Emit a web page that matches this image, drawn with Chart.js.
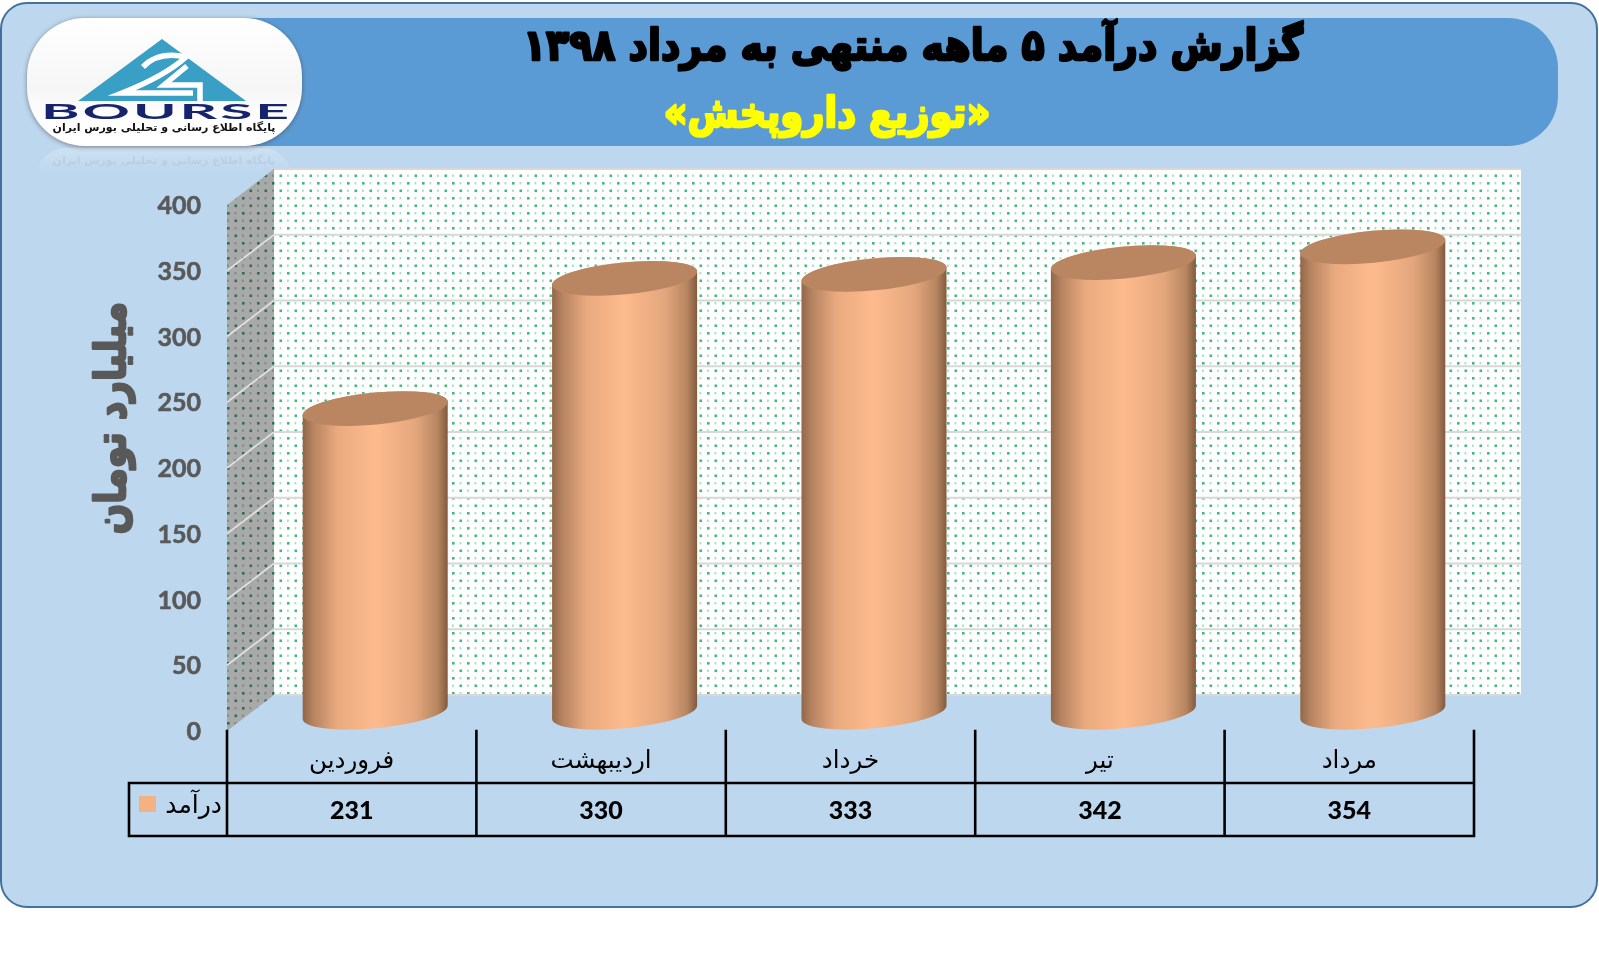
<!DOCTYPE html>
<html lang="fa">
<head>
<meta charset="utf-8">
<title>گزارش درآمد</title>
<script src="https://cdn.jsdelivr.net/npm/chart.js@4"></script>
<style>
  html, body { margin: 0; padding: 0; background: #fff; }
  canvas { display: block; }
</style>
</head>
<body>
<canvas id="revenue-chart" width="1599" height="956"></canvas>
<script>
const months = ['فروردین', 'اردیبهشت', 'خرداد', 'تیر', 'مرداد'];
const revenue = [231, 330, 333, 342, 354];
const seriesName = 'درآمد';
const axisTitle = 'میلیارد تومان';
const mainTitle = 'گزارش درآمد ۵ ماهه منتهی به مرداد ۱۳۹۸';
const subTitle = '«توزیع داروپخش»';
const logoName = 'BOURSE';
const logoCaption = 'پایگاه اطلاع رسانی و تحلیلی بورس ایران';

const arabicFont = '"DejaVu Sans", sans-serif';
const numberFont = 'Lato, "Open Sans", sans-serif';
const depthX = 47, depthY = 36;   // offset of the back wall from the front plane

function roundedBox(ctx, x, y, w, h, r) {
  ctx.beginPath();
  ctx.roundRect(x, y, w, h, r);
}

function dotPattern(ctx, bg, dot) {
  const tile = document.createElement('canvas');
  tile.width = 15; tile.height = 15;
  const t = tile.getContext('2d');
  t.fillStyle = bg;
  t.fillRect(0, 0, 15, 15);
  t.fillStyle = dot;
  t.fillRect(2, 2, 2.6, 2.6);
  t.fillRect(9.5, 9.5, 2.6, 2.6);
  t.globalAlpha = 0.45;
  t.fillRect(9.5, 2, 1.8, 2.4);
  t.fillRect(2, 9.5, 1.8, 2.4);
  return ctx.createPattern(tile, 'repeat');
}

// stretched text drawn around its centre, thickened with a stroke
function heavyText(ctx, text, cx, cy, scaleX, stroke) {
  ctx.save();
  ctx.translate(cx, cy);
  ctx.scale(scaleX, 1);
  ctx.lineWidth = stroke;
  ctx.lineJoin = 'round';
  ctx.fillText(text, 0, 0);
  ctx.strokeText(text, 0, 0);
  ctx.restore();
}

function drawLogo(ctx) {
  // reflection under the badge
  const refl = ctx.createLinearGradient(0, 148, 0, 172);
  refl.addColorStop(0, 'rgba(255,255,255,0.25)');
  refl.addColorStop(1, 'rgba(255,255,255,0)');
  ctx.fillStyle = refl;
  roundedBox(ctx, 36, 148, 256, 60, 40);
  ctx.fill();

  ctx.save();
  ctx.shadowColor = 'rgba(60,60,60,0.55)';
  ctx.shadowBlur = 5;
  ctx.shadowOffsetY = 1;
  const pill = ctx.createLinearGradient(0, 18, 0, 146);
  pill.addColorStop(0, '#ffffff');
  pill.addColorStop(0.55, '#f6f6f6');
  pill.addColorStop(0.8, '#ffffff');
  ctx.fillStyle = pill;
  roundedBox(ctx, 27, 18, 275, 128, 58);
  ctx.fill();
  ctx.restore();

  ctx.fillStyle = '#3a9fc4';
  ctx.beginPath();
  ctx.moveTo(162, 39); ctx.lineTo(246, 101); ctx.lineTo(78, 101);
  ctx.closePath();
  ctx.fill();

  ctx.strokeStyle = '#ffffff';
  ctx.lineWidth = 5.5;
  ctx.lineJoin = 'miter';
  ctx.beginPath();
  ctx.moveTo(143, 67);
  ctx.quadraticCurveTo(158, 51, 186, 57);
  ctx.quadraticCurveTo(165, 76, 122, 93);
  ctx.lineTo(193, 93);
  ctx.moveTo(187, 66);
  ctx.lineTo(164, 85);
  ctx.lineTo(200, 85);
  ctx.lineTo(200, 103);
  ctx.stroke();

  ctx.save();
  ctx.font = 'bold 20px ' + numberFont;
  ctx.fillStyle = '#16246e';
  ctx.textBaseline = 'alphabetic';
  ctx.textAlign = 'left';
  ctx.letterSpacing = '1px';
  const w = ctx.measureText(logoName).width - 1;
  ctx.translate(41, 119);
  ctx.scale(248 / w, 1);
  ctx.fillText(logoName, 0, 0);
  ctx.restore();

  ctx.save();
  ctx.font = 'bold 11px ' + arabicFont;
  ctx.direction = 'rtl';
  ctx.textAlign = 'center';
  ctx.textBaseline = 'middle';
  ctx.fillStyle = '#111';
  ctx.fillText(logoCaption, 164, 128);
  ctx.globalAlpha = 0.06;
  ctx.fillText(logoCaption, 164, 161);
  ctx.restore();
}

// panel, header and titles, behind everything
const backdrop = {
  id: 'backdrop',
  beforeDraw(chart) {
    const ctx = chart.ctx;
    ctx.save();
    ctx.fillStyle = '#BDD7EE';
    ctx.strokeStyle = '#41719C';
    ctx.lineWidth = 2;
    roundedBox(ctx, 1, 3, 1596, 904, 26);
    ctx.fill();
    ctx.stroke();

    ctx.fillStyle = '#5B9BD5';
    roundedBox(ctx, 150, 18, 1408, 128, 50);
    ctx.fill();

    ctx.direction = 'rtl';
    ctx.textAlign = 'center';
    ctx.textBaseline = 'middle';
    ctx.font = 'bold 43px ' + arabicFont;
    ctx.fillStyle = '#000';
    ctx.strokeStyle = '#000';
    heavyText(ctx, mainTitle, 913, 49, 0.88, 2.6);
    ctx.font = 'bold 42px ' + arabicFont;
    ctx.fillStyle = '#FFFF00';
    ctx.strokeStyle = '#FFFF00';
    heavyText(ctx, subTitle, 827, 116, 0.88, 2.6);
    ctx.restore();

    drawLogo(ctx);
  }
};

// back wall, side wall and grid lines, taken from the y scale
const walls = {
  id: 'walls',
  beforeDatasetsDraw(chart) {
    const ctx = chart.ctx;
    const { x, y } = chart.scales;
    const left = x.left, right = 1521;
    const top = y.getPixelForValue(400), bottom = y.getPixelForValue(0);
    ctx.save();
    ctx.fillStyle = dotPattern(ctx, '#ffffff', '#45b87f');
    ctx.fillRect(left + depthX, top - depthY, right - left - depthX, bottom - top);

    ctx.fillStyle = dotPattern(ctx, '#a9a9a9', '#2e7050');
    ctx.beginPath();
    ctx.moveTo(left, top);
    ctx.lineTo(left + depthX, top - depthY);
    ctx.lineTo(left + depthX, bottom - depthY);
    ctx.lineTo(left, bottom);
    ctx.closePath();
    ctx.fill();

    y.ticks.forEach(t => {
      const py = y.getPixelForValue(t.value);
      ctx.strokeStyle = '#d8d8d8';
      ctx.lineWidth = 2.2;
      ctx.beginPath();
      ctx.moveTo(left + depthX, py - depthY);
      ctx.lineTo(right, py - depthY);
      ctx.stroke();
      if (t.value > 0 && t.value < 400) {
        ctx.strokeStyle = '#e0e0e0';
        ctx.lineWidth = 1.6;
        ctx.beginPath();
        ctx.moveTo(left, py);
        ctx.lineTo(left + depthX, py - depthY);
        ctx.stroke();
      }
    });
    ctx.restore();
  }
};

// each bar is drawn as a cylinder from its element position
const cylinders = {
  id: 'cylinders',
  beforeDatasetDraw(chart, args) {
    const ctx = chart.ctx;
    const tilt = -5.5 * Math.PI / 180;
    args.meta.data.forEach(bar => {
      const cx = bar.x + depthX / 2;
      const a = bar.width / 2 + 0.5, b = 16;
      const topY = bar.y - depthY / 2 - 0.7;
      const baseY = bar.base - depthY / 2 - 0.7;
      const t0 = Math.atan2(-b * Math.sin(tilt), a * Math.cos(tilt));

      const side = ctx.createLinearGradient(cx - a, 0, cx + a, 0);
      side.addColorStop(0, '#8f6648');
      side.addColorStop(0.07, '#b58260');
      side.addColorStop(0.24, '#e9aa7f');
      side.addColorStop(0.5, '#fdbb8d');
      side.addColorStop(0.78, '#e3a67c');
      side.addColorStop(0.93, '#b68560');
      side.addColorStop(1, '#80593e');

      ctx.save();
      ctx.fillStyle = side;
      ctx.beginPath();
      ctx.ellipse(cx, baseY, a, b, tilt, t0, t0 + Math.PI);
      ctx.ellipse(cx, topY, a, b, tilt, t0 + Math.PI, t0 + 2 * Math.PI);
      ctx.closePath();
      ctx.fill();

      ctx.fillStyle = '#ba8561';
      ctx.beginPath();
      ctx.ellipse(cx, topY, a, b, tilt, 0, 2 * Math.PI);
      ctx.fill();
      ctx.restore();
    });
    return false;
  }
};

// data table under the plot, y axis title
const dataTable = {
  id: 'dataTable',
  afterDraw(chart) {
    const ctx = chart.ctx;
    const { x, y } = chart.scales;
    const left = x.left, right = x.right, axisY = y.bottom;
    const rowTop = 783, rowBottom = 836, tableLeft = 129;
    const band = (right - left) / months.length;

    ctx.save();
    ctx.strokeStyle = '#000';
    ctx.lineWidth = 2.6;
    ctx.lineCap = 'square';
    ctx.beginPath();
    for (let i = 0; i <= months.length; i++) {
      ctx.moveTo(left + band * i, axisY);
      ctx.lineTo(left + band * i, rowBottom);
    }
    ctx.moveTo(tableLeft, rowTop); ctx.lineTo(right, rowTop);
    ctx.moveTo(tableLeft, rowBottom); ctx.lineTo(right, rowBottom);
    ctx.moveTo(tableLeft, rowTop); ctx.lineTo(tableLeft, rowBottom);
    ctx.stroke();

    ctx.fillStyle = '#000';
    ctx.textAlign = 'center';
    ctx.textBaseline = 'middle';
    ctx.font = '900 25px ' + numberFont;
    revenue.forEach((v, i) => {
      ctx.fillText(String(v), x.getPixelForValue(i), 811);
    });

    ctx.fillStyle = chart.data.datasets[0].backgroundColor;
    ctx.fillRect(139, 796, 17, 16);
    ctx.fillStyle = '#000';
    ctx.direction = 'rtl';
    ctx.textAlign = 'right';
    ctx.font = '25px ' + arabicFont;
    ctx.fillText(seriesName, 222, 806);

    ctx.translate(114, 418);
    ctx.rotate(-Math.PI / 2);
    ctx.textAlign = 'center';
    ctx.font = 'bold 42px ' + arabicFont;
    ctx.fillStyle = '#595959';
    ctx.strokeStyle = '#595959';
    heavyText(ctx, axisTitle, 0, 0, 0.85, 2.6);
    ctx.restore();
  }
};

new Chart(document.getElementById('revenue-chart'), {
  type: 'bar',
  data: {
    labels: months,
    datasets: [{
      label: seriesName,
      data: revenue,
      backgroundColor: '#F4B183',
      categoryPercentage: 1,
      barPercentage: 0.58
    }]
  },
  plugins: [backdrop, walls, cylinders, dataTable],
  options: {
    responsive: false,
    devicePixelRatio: 1,
    animation: false,
    layout: { padding: { left: 0, top: 205, right: 125, bottom: 118 } },
    plugins: {
      legend: { display: false },
      tooltip: { enabled: false }
    },
    scales: {
      x: {
        grid: { display: false },
        border: { display: false },
        afterFit: s => { s.height = 107; },
        ticks: {
          color: '#000',
          padding: 8,
          maxRotation: 0,
          font: { family: 'DejaVu Sans', size: 24.5 }
        }
      },
      y: {
        min: 0,
        max: 400,
        grid: { display: false },
        border: { display: false },
        afterFit: s => { s.width = 227; },
        ticks: {
          stepSize: 50,
          color: '#595959',
          padding: 18,
          labelOffset: 1,
          textStrokeColor: '#595959',
          textStrokeWidth: 0.6,
          font: { family: 'Lato', size: 25, weight: 'bold' }
        }
      }
    }
  }
});
</script>
</body>
</html>
